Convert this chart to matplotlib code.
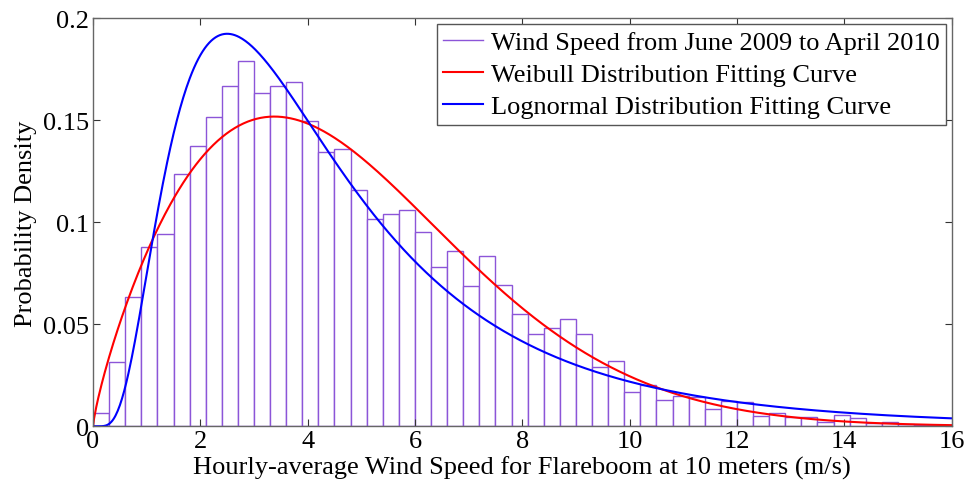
import numpy as np
import matplotlib
matplotlib.use("Agg")
import matplotlib.pyplot as plt

plt.rcParams["font.family"] = ["Liberation Serif", "DejaVu Serif"]

# ===== histogram data (bin width 0.3 m/s, starting at 0) =====
bin_width = 0.3
density = [
    0.0065, 0.0317, 0.0636, 0.0877, 0.0941, 0.1237, 0.1373, 0.1518, 0.1667, 0.1789,
    0.1632, 0.1667, 0.1686, 0.1495, 0.1343, 0.1358, 0.1160, 0.1015, 0.1040, 0.1062,
    0.0954, 0.0783, 0.0861, 0.0686, 0.0833, 0.0694, 0.0551, 0.0451, 0.0480, 0.0526,
    0.0454, 0.0289, 0.0319, 0.0170, 0.0203, 0.0129, 0.0150, 0.0142, 0.0083, 0.0125,
    0.0121, 0.0049, 0.0065, 0.0044, 0.0047, 0.0022, 0.0054, 0.0039, 0.0018, 0.0023,
    0.0010, 0.0008, 0.0007, 0.0005,
]

# ===== fitted distribution parameters =====
weibull_k = 1.80
weibull_lambda = 5.30
lognorm_mu = 1.358
lognorm_sigma = 0.665

bin_left = np.arange(len(density)) * bin_width

x = np.linspace(1e-4, 16, 800)
weibull_pdf = (weibull_k / weibull_lambda) * (x / weibull_lambda) ** (weibull_k - 1) \
    * np.exp(-(x / weibull_lambda) ** weibull_k)
lognorm_pdf = np.exp(-(np.log(x) - lognorm_mu) ** 2 / (2 * lognorm_sigma ** 2)) \
    / (x * lognorm_sigma * np.sqrt(2 * np.pi))

fig = plt.figure(figsize=(9.69, 4.85), dpi=100)
ax = fig.add_axes([0.096, 0.119, 0.886, 0.841])

hist_color = "#8c55d8"
ax.bar(bin_left, density, width=bin_width, align="edge",
       facecolor="white", edgecolor=hist_color, linewidth=1.0)
ax.plot(x, weibull_pdf, color="#ff0000", linewidth=1.5)
ax.plot(x, lognorm_pdf, color="#0000ff", linewidth=1.5)

ax.set_xlim(0, 16)
ax.set_ylim(0, 0.2)
ax.set_xticks(np.arange(0, 17, 2))
ax.set_yticks([0, 0.05, 0.1, 0.15, 0.2])
ax.set_yticklabels(["0", "0.05", "0.1", "0.15", "0.2"])
ax.tick_params(direction="in", top=True, right=True, length=5,
               labelsize=19, color="#333333", pad=3)
for s in ax.spines.values():
    s.set_color("#666666")
    s.set_linewidth(1.0)

ax.set_xlabel("Hourly-average Wind Speed for Flareboom at 10 meters (m/s)",
              fontsize=19, labelpad=2)
ax.set_ylabel("Probability Density", fontsize=19, labelpad=4)

handles = [
    plt.Line2D([], [], color=hist_color, linewidth=1.0),
    plt.Line2D([], [], color="#ff0000", linewidth=1.5),
    plt.Line2D([], [], color="#0000ff", linewidth=1.5),
]
labels = [
    "Wind Speed from June 2009 to April 2010",
    "Weibull Distribution Fitting Curve",
    "Lognormal Distribution Fitting Curve",
]
leg = ax.legend(handles, labels, loc="upper right", fontsize=19,
                handlelength=1.5, handletextpad=0.3, borderpad=0.25,
                labelspacing=0.33, fancybox=False, framealpha=1,
                borderaxespad=0.2)
leg.get_frame().set_edgecolor("#555555")
leg.get_frame().set_linewidth(1.0)

fig.savefig("out.png", dpi=100)
